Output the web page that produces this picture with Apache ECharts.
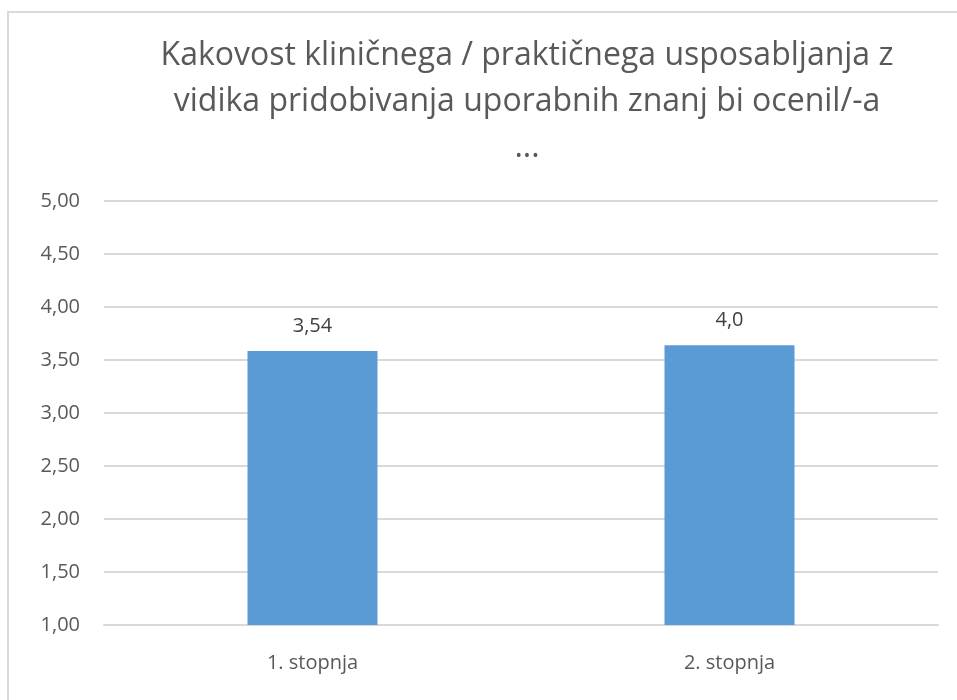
<!DOCTYPE html>
<html>
<head>
<meta charset="utf-8">
<script src="https://cdn.jsdelivr.net/npm/echarts@6/dist/echarts.min.js"></script>
<style>
  html, body { margin: 0; padding: 0; background: #fff; }
  #chart { width: 957px; height: 700px; }
</style>
</head>
<body>
<div id="chart"></div>
<script>
// podatki
const categories = ['1. stopnja', '2. stopnja'];
const barValues = [3.585, 3.64];
const barLabels = ['3,54', '4,0'];
const titleText = 'Kakovost kliničnega / praktičnega usposabljanja z\nvidika pridobivanja uporabnih znanj bi ocenil/-a\n...';

const chart = echarts.init(document.getElementById('chart'));

const option = {
  backgroundColor: '#fff',
  textStyle: { fontFamily: 'Open Sans' },
  graphic: [{
    type: 'rect',
    shape: { x: 8, y: 12, width: 960, height: 700 },
    style: { fill: 'none', stroke: '#d9d9d9', lineWidth: 2 },
    silent: true
  }],
  title: {
    text: titleText,
    left: 527,
    top: 33,
    padding: 0,
    textAlign: 'center',
    textStyle: {
      fontFamily: 'Open Sans',
      fontSize: 32,
      fontWeight: 'normal',
      color: '#595959',
      lineHeight: 46
    }
  },
  grid: { left: 104, right: 19, top: 201, bottom: 75, containLabel: false },
  xAxis: {
    type: 'category',
    data: categories,
    axisTick: { show: false },
    axisLine: { lineStyle: { color: '#d9d9d9', width: 2 } },
    axisLabel: { color: '#595959', fontSize: 20, margin: 28 }
  },
  yAxis: {
    type: 'value',
    min: 1,
    max: 5,
    interval: 0.5,
    axisLine: { show: false },
    axisTick: { show: false },
    splitLine: { lineStyle: { color: '#d9d9d9', width: 2 } },
    axisLabel: {
      color: '#595959',
      fontSize: 20,
      margin: 24,
      formatter: v => v.toFixed(2).replace('.', ',')
    }
  },
  series: [{
    type: 'bar',
    data: barValues,
    barWidth: 130,
    itemStyle: { color: '#5b9bd5' },
    label: {
      show: true,
      position: 'top',
      distance: 15,
      color: '#404040',
      fontSize: 20,
      formatter: p => barLabels[p.dataIndex]
    }
  }]
};

chart.setOption(option);
</script>
</body>
</html>
